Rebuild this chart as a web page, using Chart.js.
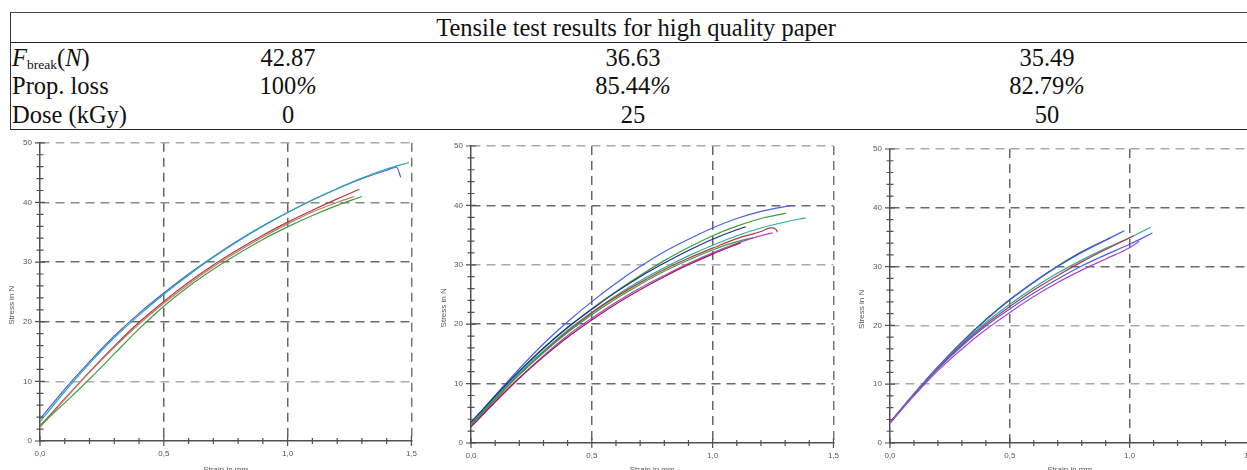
<!DOCTYPE html>
<html>
<head>
<meta charset="utf-8">
<script src="https://cdn.jsdelivr.net/npm/chart.js@4.4.1/dist/chart.umd.min.js"></script>
<style>
  html, body { margin: 0; padding: 0; background: #fff; width: 1247px; height: 470px; overflow: hidden; }
  #tbl {
    position: absolute; left: 10px; top: 12px; width: 1250px;
    border-top: 1px solid #444; border-bottom: 1px solid #222; border-left: 1px solid #333;
    font-family: "Liberation Serif", "Times New Roman", serif; font-size: 24.5px; color: #111;
  }
  #tbl .title { text-align: center; line-height: 28px; height: 28px; padding-top: 1px; border-bottom: 1px solid #222; }
  #tbl .body { padding-top: 1px; }
  #tbl .row { display: grid; grid-template-columns: 133px 288px 402px 426px; height: 28.35px; line-height: 28.35px; }
  #tbl .row div { text-align: center; white-space: nowrap; }
  #tbl .row div.lab { text-align: left; padding-left: 1px; }
  #tbl .sub { font-size: 13.5px; position: relative; top: 3px; }
  .plot { position: absolute; }
</style>
</head>
<body>
<div id="tbl">
  <div class="title">Tensile test results for high quality paper</div>
  <div class="body" id="tblBody"></div>
</div>
<div class="plot" style="left:0;top:130px"><canvas id="c1" width="425" height="347"></canvas></div>
<div class="plot" style="left:420px;top:130px"><canvas id="c2" width="427" height="349"></canvas></div>
<div class="plot" style="left:840px;top:130px"><canvas id="c3" width="423" height="349"></canvas></div>
<script>
// table values
const rowLabels = ['<i>F</i><span class="sub">break</span>(<i>N</i>)', 'Prop. loss', 'Dose (kGy)'];
const breakForce = ['42.87', '36.63', '35.49'];
const propLoss = ['100%', '85.44%', '82.79%'];
const doses = ['0', '25', '50'];

// curves, [strain in mm, stress in N]
// dose 0
const c1Blue = [[0,3.7],[0.1,8.7],[0.2,13.3],[0.3,17.6],[0.4,21.4],[0.5,24.8],[0.6,28.0],[0.7,30.9],[0.8,33.6],[0.9,36.1],[1.0,38.3],[1.1,40.4],[1.2,42.3],[1.3,44.0],[1.4,45.4],[1.44,45.9],[1.457,44.2]];
const c1Cyan = [[0,3.2],[0.1,8.3],[0.2,13.0],[0.3,17.3],[0.4,21.1],[0.5,24.6],[0.6,27.8],[0.7,30.8],[0.8,33.5],[0.9,36.0],[1.0,38.3],[1.1,40.4],[1.2,42.3],[1.3,44.1],[1.4,45.6],[1.49,46.7]];
const c1Red = [[0,2.5],[0.1,7.1],[0.2,11.6],[0.3,15.9],[0.4,19.9],[0.5,23.4],[0.6,26.6],[0.7,29.5],[0.8,32.1],[0.9,34.5],[1.0,36.7],[1.1,38.7],[1.2,40.6],[1.29,42.2]];
const c1Rose = [[0,2.3],[0.1,7.0],[0.2,11.5],[0.3,15.7],[0.4,19.6],[0.5,23.1],[0.6,26.3],[0.7,29.2],[0.8,31.8],[0.9,34.2],[1.0,36.4],[1.1,38.4],[1.2,40.0],[1.27,41.0]];
const c1Green = [[0,2.6],[0.1,6.4],[0.2,10.4],[0.3,14.6],[0.4,18.8],[0.5,22.6],[0.6,25.9],[0.7,28.8],[0.8,31.4],[0.9,33.8],[1.0,35.9],[1.1,37.8],[1.2,39.5],[1.3,41.0]];
// dose 25
const c2Blue = [[0,3.3],[0.1,8.0],[0.2,12.5],[0.3,16.7],[0.4,20.4],[0.5,23.8],[0.6,26.9],[0.7,29.7],[0.8,32.2],[0.9,34.3],[1.0,36.2],[1.1,37.8],[1.2,39.0],[1.3,39.8],[1.335,40.0]];
const c2Green = [[0,3.2],[0.1,7.7],[0.2,12.0],[0.3,15.9],[0.4,19.4],[0.5,22.6],[0.6,25.5],[0.7,28.2],[0.8,30.7],[0.9,32.9],[1.0,34.9],[1.1,36.5],[1.2,37.8],[1.305,38.7]];
const c2Navy = [[0,3.5],[0.1,7.9],[0.2,12.1],[0.3,16.0],[0.4,19.5],[0.5,22.5],[0.6,25.4],[0.7,28.0],[0.8,30.3],[0.9,32.4],[1.0,34.3],[1.1,35.9],[1.137,36.4]];
const c2Cyan = [[0,3.0],[0.1,7.5],[0.2,11.7],[0.3,15.5],[0.4,19.0],[0.5,22.0],[0.6,24.8],[0.7,27.3],[0.8,29.5],[0.9,31.5],[1.0,33.3],[1.1,34.9],[1.2,36.2],[1.3,37.2],[1.385,37.9]];
const c2Red = [[0,2.9],[0.1,7.3],[0.2,11.5],[0.3,15.3],[0.4,18.8],[0.5,21.9],[0.6,24.6],[0.7,27.0],[0.8,29.2],[0.9,31.1],[1.0,32.8],[1.1,34.4],[1.2,35.6],[1.24,36.2],[1.262,36.0],[1.268,35.5]];
const c2Green2 = [[0,3.0],[0.1,7.4],[0.2,11.5],[0.3,15.2],[0.4,18.6],[0.5,21.6],[0.6,24.3],[0.7,26.7],[0.8,28.9],[0.9,30.8],[1.0,32.5],[1.1,33.9],[1.17,34.6]];
const c2Purple = [[0,2.8],[0.1,7.0],[0.2,11.0],[0.3,14.7],[0.4,18.1],[0.5,21.0],[0.6,23.7],[0.7,26.1],[0.8,28.2],[0.9,30.2],[1.0,32.0],[1.1,33.6],[1.2,34.9],[1.25,35.4]];
const c2Maroon = [[0,2.7],[0.1,6.9],[0.2,10.9],[0.3,14.5],[0.4,17.8],[0.5,20.7],[0.6,23.4],[0.7,25.8],[0.8,28.0],[0.9,30.0],[1.0,31.8],[1.116,33.7]];
// dose 50
const c3Blue = [[0,3.4],[0.1,8.3],[0.2,12.9],[0.3,17.1],[0.4,20.9],[0.5,24.3],[0.6,27.3],[0.7,30.0],[0.8,32.4],[0.9,34.5],[0.978,36.1]];
const c3DarkGreen = [[0,3.5],[0.1,8.4],[0.2,13.0],[0.3,17.2],[0.4,21.0],[0.5,24.4],[0.6,27.4],[0.7,30.1],[0.8,32.5],[0.92,34.9]];
const c3Cyan = [[0,3.5],[0.1,8.3],[0.2,12.8],[0.3,16.9],[0.4,20.5],[0.5,23.6],[0.6,26.4],[0.7,28.9],[0.8,31.1],[0.9,33.1],[1.0,34.9],[1.088,36.7]];
const c3Red = [[0,3.4],[0.1,8.2],[0.2,12.7],[0.3,16.7],[0.4,20.2],[0.5,23.2],[0.6,26.0],[0.7,28.5],[0.8,30.8],[0.9,32.9],[1.017,35.2]];
const c3Blue2 = [[0,3.5],[0.1,8.2],[0.2,12.6],[0.3,16.5],[0.4,19.9],[0.5,22.8],[0.6,25.5],[0.7,27.9],[0.8,30.1],[0.9,32.0],[1.0,33.8],[1.095,35.7]];
const c3Purple = [[0,3.4],[0.1,8.0],[0.2,12.3],[0.3,16.0],[0.4,19.3],[0.5,22.2],[0.6,24.9],[0.7,27.3],[0.8,29.4],[0.9,31.3],[1.0,33.2],[1.04,34.3]];

// build the table rows (the % sign is set slanted, as in the source)
const body = document.getElementById('tblBody');
[breakForce, propLoss, doses].forEach((vals, i) => {
  const row = document.createElement('div');
  row.className = 'row';
  row.innerHTML = '<div class="lab">' + rowLabels[i] + '</div>' +
    vals.map(v => '<div>' + v.replace('%', '<i>%</i>') + '</div>').join('');
  body.appendChild(row);
});

Chart.defaults.font.family = "'Liberation Sans', Arial, sans-serif";
Chart.defaults.font.size = 8;
Chart.defaults.color = '#555';

const isMajorX = v => Math.round(v * 10) % 5 === 0;
const isMajorY = v => Math.round(v) % 10 === 0;

// tick marks that cross the axis line, like the tester software draws them
const crossTicks = {
  id: 'crossTicks',
  afterDraw(chart) {
    const ctx = chart.ctx;
    const xs = chart.scales.x, ys = chart.scales.y;
    ctx.save();
    ctx.strokeStyle = '#505050';
    ctx.lineWidth = 1.2;
    ctx.beginPath();
    xs.ticks.forEach(t => {
      const px = xs.getPixelForValue(t.value);
      const len = isMajorX(t.value) ? 5 : 3;
      ctx.moveTo(px, xs.top - len);
      ctx.lineTo(px, xs.top + len);
    });
    ys.ticks.forEach(t => {
      const py = ys.getPixelForValue(t.value);
      const len = isMajorY(t.value) ? 5 : 3.5;
      ctx.moveTo(ys.right - len, py);
      ctx.lineTo(ys.right + len, py);
    });
    ctx.stroke();
    ctx.restore();
  }
};

// trailing blanks push the rotated axis title a bit below the middle, where the original sits
const yTitle = 'Stress in N' + '\u00a0'.repeat(12);

function makeChart(id, series, opt) {
  return new Chart(document.getElementById(id), {
    type: 'line',
    data: {
      datasets: series.map(s => ({
        data: s[0].map(p => ({ x: p[0], y: p[1] })),
        borderColor: s[1],
        borderWidth: 1.2,
        pointRadius: 0,
        cubicInterpolationMode: 'monotone',
        fill: false
      }))
    },
    options: {
      responsive: false,
      animation: false,
      devicePixelRatio: 1,
      layout: { padding: { top: opt.top, right: 10, left: 0, bottom: 0 } },
      plugins: { legend: { display: false }, tooltip: { enabled: false } },
      scales: {
        x: {
          type: 'linear', min: 0, max: 1.5,
          ticks: {
            stepSize: 0.1, autoSkip: false, maxRotation: 0, padding: 8,
            callback: v => isMajorX(v) ? v.toFixed(1).replace('.', ',') : ''
          },
          grid: {
            drawTicks: false, lineWidth: 1.5,
            color: c => (c.tick && c.tick.value > 0 && isMajorX(c.tick.value)) ? opt.xGrid[Math.round(c.tick.value * 2) - 1] : 'rgba(0,0,0,0)'
          },
          border: { color: '#505050', width: 1.5, dash: [9, 6] },
          title: { display: true, text: 'Strain in mm', padding: { top: 0, bottom: opt.xTitlePad } },
          afterFit: s => { s.height = 36; }
        },
        y: {
          type: 'linear', min: 0, max: 50,
          ticks: {
            stepSize: 2, autoSkip: false, padding: 8,
            callback: v => isMajorY(v) ? String(v) : ''
          },
          grid: {
            drawTicks: false, lineWidth: 1.5,
            color: c => (c.tick && c.tick.value > 0 && isMajorY(c.tick.value)) ? opt.yGrid[Math.round(c.tick.value / 10) - 1] : 'rgba(0,0,0,0)'
          },
          border: { color: '#505050', width: 1.5, dash: [9, 6] },
          title: { display: true, text: yTitle, padding: { top: opt.yTitlePad, bottom: 0 } },
          afterFit: s => { s.width = opt.yWidth; }
        }
      }
    },
    plugins: [crossTicks]
  });
}

const blue = '#4a5ee8', cyan = '#2fa8a8', red = '#b03a3a', rose = '#c87474', green = '#3ca03c',
      navy = '#1c2c9c', purple = '#b444c4', maroon = '#902058', darkGreen = '#1f5f3f';

makeChart('c1', [[c1Green, green], [c1Rose, rose], [c1Red, red], [c1Cyan, cyan], [c1Blue, blue]],
  { top: 10, yWidth: 40, yTitlePad: 7, xTitlePad: 2,
    xGrid: ['#666', '#666', '#777'], yGrid: ['#aaa', '#6a6a6a', '#6a6a6a', '#8a8a8a', '#aaa'] });
makeChart('c2', [[c2Maroon, maroon], [c2Purple, purple], [c2Green2, green], [c2Red, red], [c2Cyan, cyan], [c2Navy, navy], [c2Green, green], [c2Blue, blue]],
  { top: 16, yWidth: 51, yTitlePad: 18.5, xTitlePad: 4,
    xGrid: ['#666', '#666', '#777'], yGrid: ['#6a6a6a', '#6a6a6a', '#aaa', '#6a6a6a', '#aaa'] });
makeChart('c3', [[c3Purple, purple], [c3Blue2, blue], [c3Red, red], [c3Cyan, cyan], [c3Blue, blue], [c3DarkGreen, darkGreen]],
  { top: 19, yWidth: 50, yTitlePad: 17, xTitlePad: 4,
    xGrid: ['#666', '#666', '#777'], yGrid: ['#aaa', '#aaa', '#6a6a6a', '#6a6a6a', '#aaa'] });
</script>
</body>
</html>
